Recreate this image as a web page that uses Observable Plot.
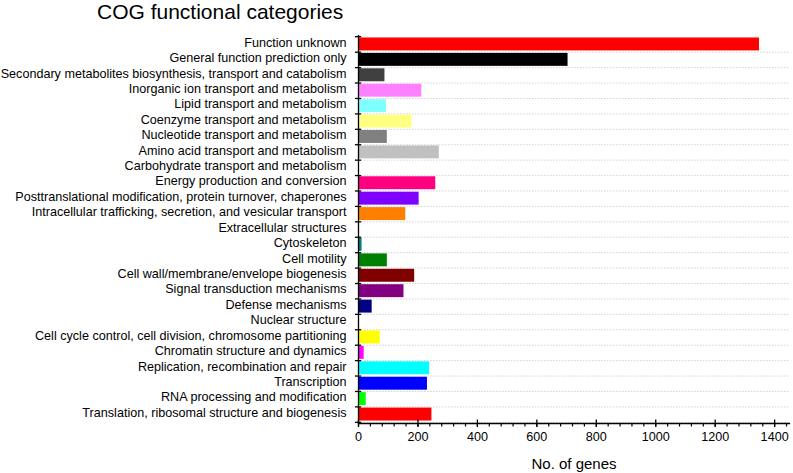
<!DOCTYPE html>
<html>
<head>
<meta charset="utf-8">
<script src="https://cdn.jsdelivr.net/npm/d3@7"></script>
<script src="https://cdn.jsdelivr.net/npm/@observablehq/plot@0.6"></script>
<style>
  html, body { margin: 0; padding: 0; background: #fff; }
  #wrap { position: relative; width: 793px; height: 473px; font-family: "Liberation Sans", Arial, sans-serif; }
  #title { position: absolute; left: 97px; top: 1px; font-size: 21px; line-height: 1; color: #000; white-space: nowrap; }
</style>
</head>
<body>
<div id="wrap"><div id="title">COG functional categories</div></div>
<script>
const categories = [
  "Function unknown",
  "General function prediction only",
  "Secondary metabolites biosynthesis, transport and catabolism",
  "Inorganic ion transport and metabolism",
  "Lipid transport and metabolism",
  "Coenzyme transport and metabolism",
  "Nucleotide transport and metabolism",
  "Amino acid transport and metabolism",
  "Carbohydrate transport and metabolism",
  "Energy production and conversion",
  "Posttranslational modification, protein turnover, chaperones",
  "Intracellular trafficking, secretion, and vesicular transport",
  "Extracellular structures",
  "Cytoskeleton",
  "Cell motility",
  "Cell wall/membrane/envelope biogenesis",
  "Signal transduction mechanisms",
  "Defense mechanisms",
  "Nuclear structure",
  "Cell cycle control, cell division, chromosome partitioning",
  "Chromatin structure and dynamics",
  "Replication, recombination and repair",
  "Transcription",
  "RNA processing and modification",
  "Translation, ribosomal structure and biogenesis"
];
const geneCounts = [1349, 705, 89, 213, 94, 180, 97, 272, 0, 260, 204, 159, 0, 12, 97, 189, 153, 46, 0, 73, 19, 239, 232, 26, 247];
const barColors = ["#FF0000", "#000000", "#404040", "#FF80FF", "#80FFFF", "#FFFF80", "#808080", "#C0C0C0", "#804000",
  "#FF0080", "#8000FF", "#FF8000", "#80FF80", "#008080", "#008000", "#800000", "#800080", "#000080", "#0080FF",
  "#FFFF00", "#FF00FF", "#00FFFF", "#0000FF", "#00FF00", "#FF0000"];
const majorTicks = [0, 200, 400, 600, 800, 1000, 1200, 1400];
const minorTicks = d3.range(0, 1441, 40);

const data = categories.map((c, i) => ({category: c, value: geneCounts[i], color: barColors[i]}));

const W = 793, H = 473, mL = 358, mR = 4, mT = 35, mB = 50;
const step = (H - mT - mB) / categories.length;
const font = "Liberation Sans, Arial, sans-serif";

const chart = Plot.plot({
  width: W, height: H,
  marginLeft: mL, marginRight: mR, marginTop: mT, marginBottom: mB,
  style: {fontFamily: font, fontSize: "12.6px", color: "#000", background: "transparent", overflow: "visible"},
  x: {domain: [0, 1450]},
  y: {domain: categories, padding: 0.16, align: 0.5, round: false},
  color: {type: "identity"},
  marks: [
    // dotted grid lines at band boundaries
    Plot.ruleY(categories, {y: d => d, dy: step / 2, stroke: "#c8c8c8", strokeWidth: 0.8, strokeDasharray: "1.5,1.5"}),
    Plot.barX(data, {y: "category", x: "value", fill: "color"}),
    // y-axis line
    Plot.ruleX([0], {stroke: "#000", strokeWidth: 1.3}),
    // y tick marks at band boundaries
    Plot.ruleY(categories, {y: d => d, dy: step / 2, x1: -10.5, x2: 10.5, stroke: "#000", strokeWidth: 1.3}),
    Plot.ruleY([categories[0]], {y: d => d, dy: -step / 2, x1: -10.5, x2: 10.5, stroke: "#000", strokeWidth: 1.3}),
    Plot.axisY({tickSize: 0, tickPadding: 12, fontSize: 12.6, dy: -1.8, label: null}),
    // x axis line
    Plot.frame({anchor: "bottom", stroke: "#000", strokeWidth: 1.3}),
    Plot.axisX({ticks: minorTicks, tickSize: 3.5, text: null, label: null, strokeWidth: 1.2}),
    Plot.axisX({ticks: majorTicks, tickSize: 7.5, dy: -3.5, text: null, label: null, strokeWidth: 1.3}),
    Plot.axisX({ticks: majorTicks, tickSize: 0, tickPadding: 9, fontSize: 12.6, tickFormat: d => String(d), label: null}),
    Plot.axisX({ticks: [], label: "No. of genes", labelAnchor: "center", labelArrow: "none", labelOffset: 45, fontSize: 15})
  ]
});
document.getElementById("wrap").appendChild(chart);
</script>
</body>
</html>
